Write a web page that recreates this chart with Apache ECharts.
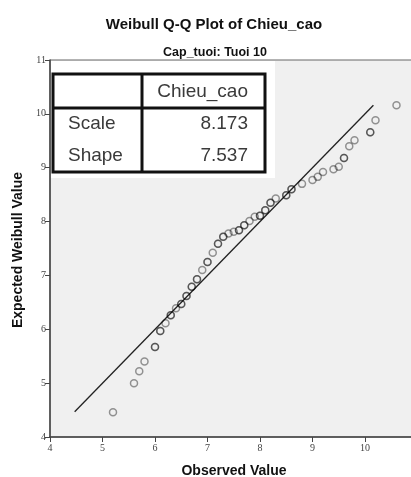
<!DOCTYPE html>
<html>
<head>
<meta charset="utf-8">
<script src="https://cdn.jsdelivr.net/npm/echarts@6/dist/echarts.min.js"></script>
<style>html,body{margin:0;padding:0;background:#fff}#c{width:411px;height:477px}</style>
</head>
<body>
<div id="c"></div>
<script>
// ---- data ----
var observed = [5.2,5.6,5.7,5.8,6.0,6.0,6.1,6.1,6.2,6.3,6.3,6.4,6.5,6.5,6.6,6.6,6.7,6.7,6.8,6.8,6.9,7.0,7.0,7.1,7.2,7.2,7.3,7.3,7.4,7.5,7.6,7.6,7.7,7.7,7.8,7.9,8.0,8.0,8.1,8.1,8.2,8.2,8.3,8.5,8.5,8.6,8.6,8.8,9.0,9.1,9.2,9.4,9.5,9.6,9.6,9.7,9.8,10.1,10.1,10.2,10.6];
var expected = [4.46,5.00,5.22,5.40,5.67,5.67,5.97,5.97,6.11,6.26,6.26,6.39,6.47,6.47,6.62,6.62,6.79,6.79,6.93,6.93,7.10,7.25,7.25,7.42,7.59,7.59,7.72,7.72,7.78,7.81,7.84,7.84,7.93,7.93,8.01,8.09,8.11,8.11,8.21,8.21,8.35,8.35,8.43,8.49,8.49,8.60,8.60,8.70,8.77,8.83,8.92,8.97,9.02,9.18,9.18,9.40,9.51,9.66,9.66,9.88,10.16];
var fitLineX = [4.47, 10.16];
var fitLineY = [4.47, 10.16];
var xTicks = [4,5,6,7,8,9,10,11];
var yTicks = [4,5,6,7,8,9,10,11];
var titleText = 'Weibull Q-Q Plot of Chieu_cao';
var subtitleText = 'Cap_tuoi: Tuoi 10';
var xName = 'Observed Value';
var yName = 'Expected Weibull Value';
var tableHeader = 'Chieu_cao';
var tableRows = ['Scale', 'Shape'];
var tableValues = ['8.173', '7.537'];

// ---- build ----
var pts = observed.map(function(v, i){ return [v, expected[i]]; });
var linePts = fitLineX.map(function(v, i){ return [v, fitLineY[i]]; });

var chart = echarts.init(document.getElementById('c'), null, {renderer: 'canvas'});
var ff = '"Liberation Sans", Arial, sans-serif';
var serif = '"Liberation Serif", "DejaVu Serif", serif';

var graphics = [
  {type:'rect', shape:{x:51, y:61, width:224, height:117}, style:{fill:'#ffffff'}, z:50},
  {type:'rect', shape:{x:53, y:74, width:212, height:98}, style:{fill:'none', stroke:'#111', lineWidth:3}, z:51},
  {type:'line', shape:{x1:53, y1:108, x2:265, y2:108}, style:{stroke:'#111', lineWidth:3}, z:51},
  {type:'line', shape:{x1:142, y1:74, x2:142, y2:172}, style:{stroke:'#111', lineWidth:3}, z:51},
  {type:'text', x:248, y:92, style:{text:tableHeader, font:'19px ' + ff, fill:'#3a3a3a', textAlign:'right', textVerticalAlign:'middle'}, z:52},
  {type:'text', x:68, y:124, style:{text:tableRows[0], font:'19px ' + ff, fill:'#3a3a3a', textAlign:'left', textVerticalAlign:'middle'}, z:52},
  {type:'text', x:248, y:124, style:{text:tableValues[0], font:'19px ' + ff, fill:'#3a3a3a', textAlign:'right', textVerticalAlign:'middle'}, z:52},
  {type:'text', x:68, y:156, style:{text:tableRows[1], font:'19px ' + ff, fill:'#3a3a3a', textAlign:'left', textVerticalAlign:'middle'}, z:52},
  {type:'text', x:248, y:156, style:{text:tableValues[1], font:'19px ' + ff, fill:'#3a3a3a', textAlign:'right', textVerticalAlign:'middle'}, z:52},
  {type:'text', x:234, y:471, style:{text:xName, font:'bold 14px ' + ff, fill:'#111', textAlign:'center', textVerticalAlign:'middle'}, z:52},
  {type:'text', x:18, y:250, rotation:Math.PI/2, style:{text:yName, font:'bold 14px ' + ff, fill:'#111', textAlign:'center', textVerticalAlign:'middle'}, z:52}
];

chart.setOption({
  animation: false,
  backgroundColor: '#ffffff',
  title: [
    {text: titleText, left: 209, top: 12, textAlign: 'center', textStyle:{fontFamily: ff, fontWeight:'bold', fontSize:15, color:'#111'}},
    {text: subtitleText, left: 210, top: 41, textAlign: 'center', textStyle:{fontFamily: ff, fontWeight:'bold', fontSize:12.5, color:'#111'}}
  ],
  grid: {left: 50, top: 60, width: 367.5, height: 377, outerBoundsMode: 'none', containLabel: false,
         show: true, backgroundColor: '#f0f0f0', borderColor: '#666', borderWidth: 1},
  xAxis: {
    type: 'value', min: xTicks[0], max: xTicks[xTicks.length-1], interval: 1,
    axisLine: {show: true, onZero: false, lineStyle: {color: '#444', width: 1.5}},
    axisTick: {show: true, length: 5, lineStyle: {color: '#444'}},
    axisLabel: {fontFamily: serif, fontSize: 10, color: '#444', margin: 6},
    splitLine: {show: false}
  },
  yAxis: {
    type: 'value', min: yTicks[0], max: yTicks[yTicks.length-1], interval: 1,
    axisLine: {show: true, onZero: false, lineStyle: {color: '#444', width: 1.5}},
    axisTick: {show: true, length: 5, lineStyle: {color: '#444'}},
    axisLabel: {fontFamily: serif, fontSize: 10, color: '#444', margin: 4},
    splitLine: {show: false}
  },
  series: [
    {type: 'line', data: linePts, showSymbol: false, silent: true, lineStyle: {color: '#222', width: 1.3}, z: 2},
    {type: 'scatter', data: pts, symbol: 'circle', symbolSize: 7, silent: true,
     itemStyle: {color: 'rgba(0,0,0,0)', borderColor: 'rgba(0,0,0,0.5)', borderWidth: 1.5}, z: 3}
  ],
  graphic: graphics
});
</script>
</body>
</html>
